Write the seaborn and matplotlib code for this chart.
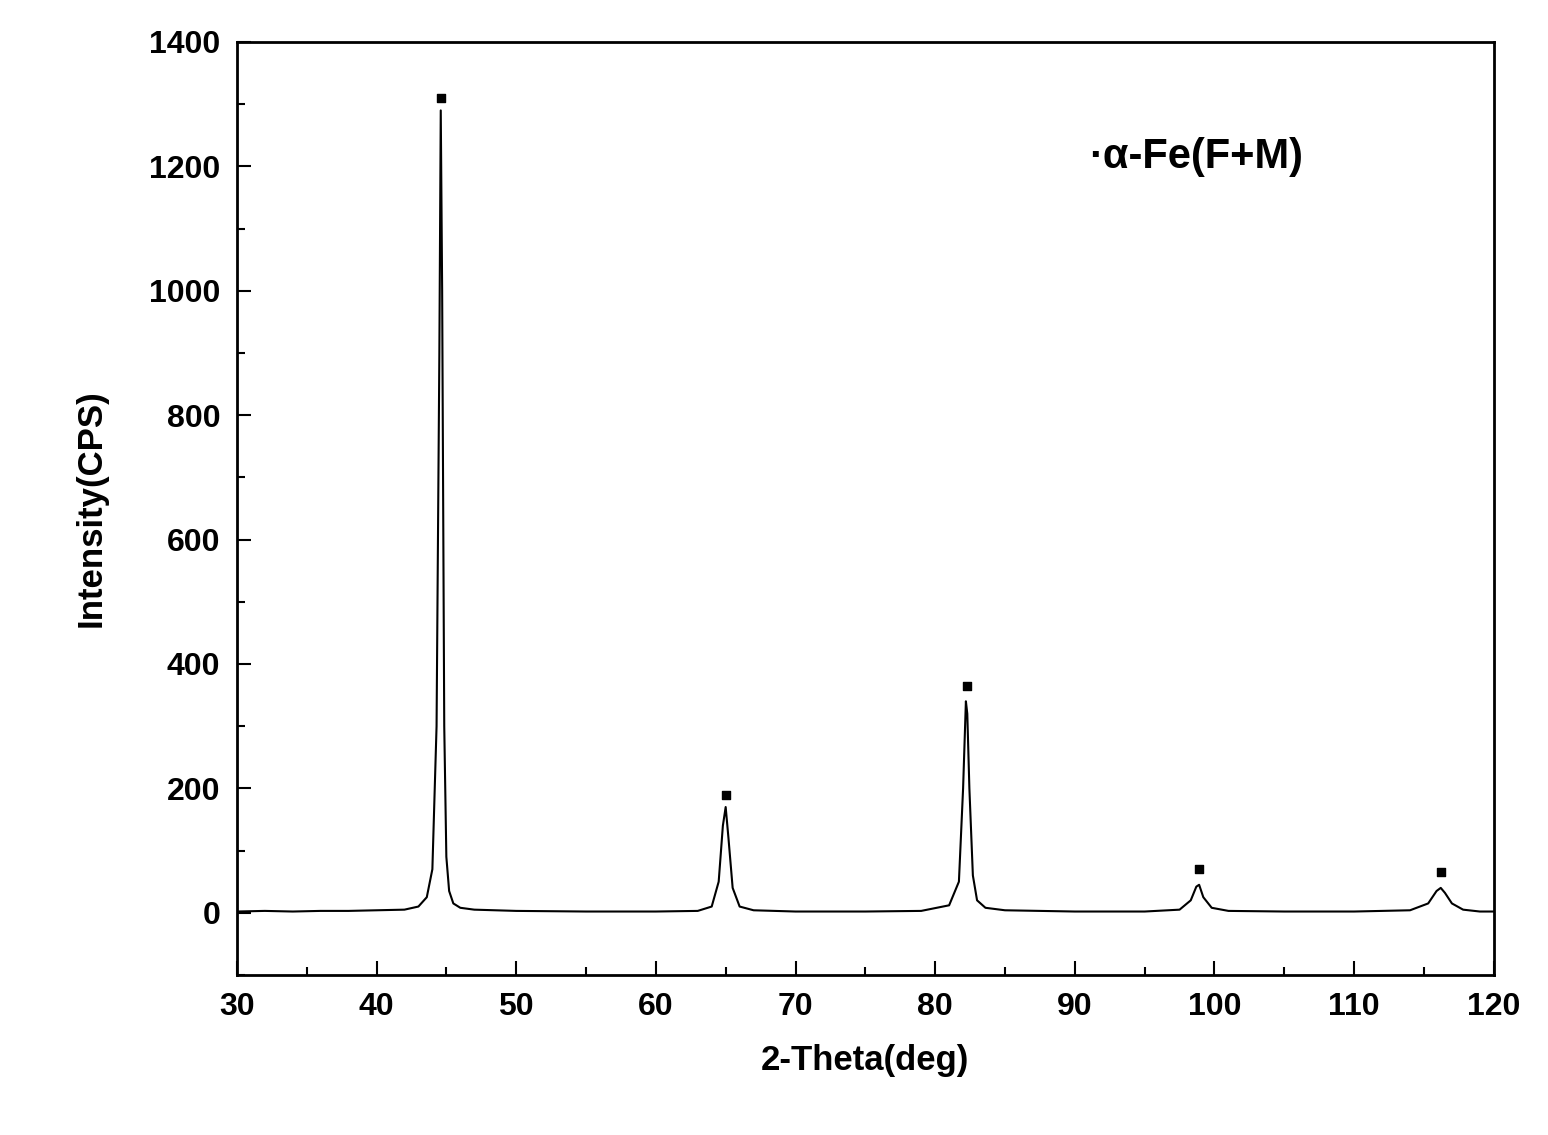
import matplotlib
matplotlib.use("Agg")
import matplotlib.pyplot as plt
import seaborn as sns
import pandas as pd
from matplotlib.ticker import MultipleLocator

two_theta = [30, 32, 34, 36, 38, 40, 42, 43.0, 43.6, 44.0, 44.3, 44.5, 44.6, 44.7, 44.85, 45.0, 45.2, 45.5, 46.0, 47, 50, 55, 60, 63, 64.0, 64.5, 64.8, 65.0, 65.2, 65.5, 66.0, 67, 70, 75, 79, 81.0, 81.7, 82.0, 82.2, 82.3, 82.45, 82.7, 83.0, 83.6, 85, 90, 95, 97.5, 98.3, 98.7, 98.9, 99.2, 99.8, 101, 105, 110, 114, 115.3, 115.9, 116.2, 116.5, 117.0, 117.8, 119, 120]
intensity = [2, 3, 2, 3, 3, 4, 5, 10, 25, 70, 300, 900, 1290, 1000, 300, 90, 35, 15, 8, 5, 3, 2, 2, 3, 10, 50, 140, 170, 120, 40, 10, 4, 2, 2, 3, 12, 50, 200, 340, 320, 200, 60, 20, 8, 4, 2, 2, 5, 20, 42, 45, 25, 8, 3, 2, 2, 4, 15, 35, 40, 32, 15, 5, 2, 2]
peak_pos = [44.6, 65.0, 82.3, 98.9, 116.2]
peak_mark = [1310, 190, 365, 70, 65]

sns.set_theme(style="ticks")
plt.rcParams['font.family'] = ['Liberation Sans', 'DejaVu Sans']
fig = plt.figure(figsize=(15.48, 11.35), dpi=100)
ax = fig.add_axes([0.153, 0.141, 0.812, 0.822])
df = pd.DataFrame({"x": two_theta, "y": intensity})
sns.lineplot(data=df, x="x", y="y", ax=ax, color="black", linewidth=1.5)
ax.scatter(peak_pos, peak_mark, marker="s", s=30, color="black")
ax.text(91.0, 1215, "·α-Fe(F+M)", fontsize=30, fontweight="bold", va="center", color="black")
ax.set_xlim(30, 120)
ax.set_ylim(-100, 1400)
ax.xaxis.set_major_locator(MultipleLocator(10))
ax.xaxis.set_minor_locator(MultipleLocator(5))
ax.yaxis.set_major_locator(MultipleLocator(200))
ax.yaxis.set_minor_locator(MultipleLocator(100))
ax.tick_params(which="both", direction="in", width=1.5, labelsize=23, colors="black", pad=12)
ax.tick_params(which="major", length=10)
ax.tick_params(which="minor", length=6)
for lab in ax.get_xticklabels() + ax.get_yticklabels():
    lab.set_fontweight("bold")
for s in ax.spines.values():
    s.set_linewidth(2)
    s.set_color("black")
    s.set_visible(True)
ax.set_xlabel("2-Theta(deg)", fontsize=25, fontweight="bold", labelpad=16, color="black")
ax.set_ylabel("Intensity(CPS)", fontsize=25, fontweight="bold", labelpad=30, color="black")
fig.savefig("out.png", dpi=100)
